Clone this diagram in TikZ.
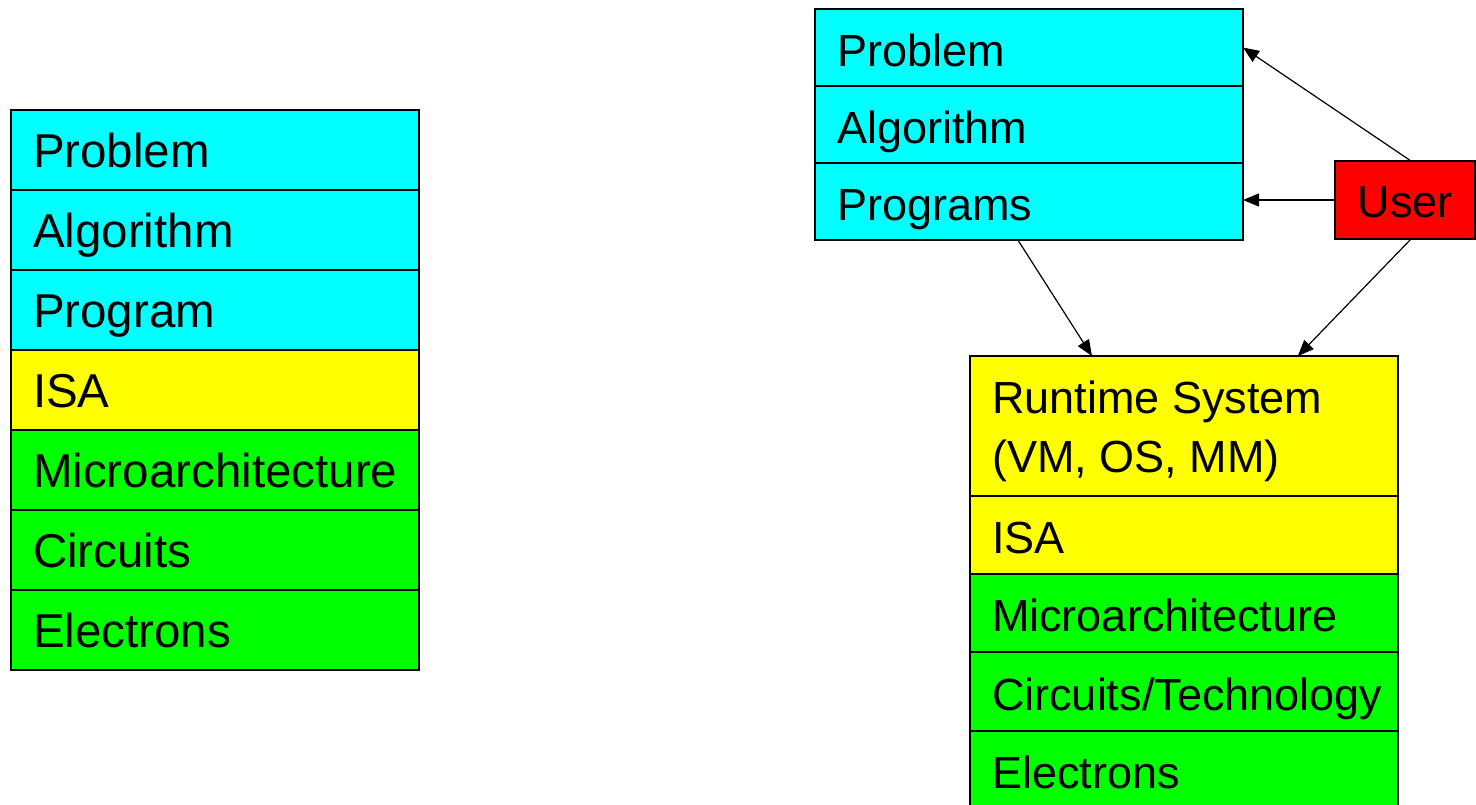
\documentclass[tikz,border=0pt]{standalone}
\usepackage{fontspec}
\setmainfont{Liberation Sans}
\usetikzlibrary{arrows.meta,calc}
\definecolor{cyanR}{RGB}{0,255,255}
\definecolor{yellowR}{RGB}{255,255,0}
\definecolor{greenR}{RGB}{0,255,0}
\definecolor{redR}{RGB}{255,0,0}
\begin{document}
\begin{tikzpicture}[x=0.5pt,y=-0.5pt,
  lay/.style={draw=black, line width=0.7pt, outer sep=0pt, anchor=north west, align=left, inner xsep=11pt, inner ysep=0pt, text depth=0pt},
  layL/.style={lay, text width=182pt, minimum height=40pt, font=\fontsize{23.75pt}{29.5pt}\selectfont, text height=17pt},
  layR/.style={lay, text width=192pt, font=\fontsize{22.5pt}{29.5pt}\selectfont, text height=18.8pt},
  txtR/.style={anchor=base west, inner sep=0pt, font=\fontsize{22.5pt}{29.5pt}\selectfont},
  conn/.style={draw=black, line width=0.6pt, -{Triangle[length=8pt,width=6.5pt]}}
]
\useasboundingbox (0,0) rectangle (1476,804);
\fill[white] (0,0) rectangle (1476,804);
% left stack
\node[layL, fill=cyanR]   (l1) at (11,110) {Problem};
\node[layL, fill=cyanR]   (l2) at (11,190) {Algorithm};
\node[layL, fill=cyanR]   (l3) at (11,270) {Program};
\node[layL, fill=yellowR] (l4) at (11,350) {ISA};
\node[layL, fill=greenR]  (l5) at (11,430) {Microarchitecture};
\node[layL, fill=greenR]  (l6) at (11,510) {Circuits};
\node[layL, fill=greenR]  (l7) at (11,590) {Electrons};
% right top stack
\node[layR, fill=cyanR, minimum height=38.5pt] (p1) at (815,9) {Problem};
\node[layR, fill=cyanR, minimum height=38.5pt] (p2) at (815,86) {Algorithm};
\node[layR, fill=cyanR, minimum height=38.5pt] (p3) at (815,163) {Programs};
% user
\node[draw=black, line width=0.7pt, fill=redR, minimum width=70pt, minimum height=39pt, inner sep=0pt, outer sep=0pt, font=\fontsize{22.5pt}{29.5pt}\selectfont, text height=17.5pt, text depth=0pt] (user) at (1405,200) {User};
% right bottom stack
\node[lay, fill=yellowR, text width=192pt, minimum height=70pt] (rt) at (970,356) {};
\node[txtR] (rt1) at (992,413) {Runtime System};
\node[txtR] (rt2) at (992,472) {(VM, OS, MM)};
\node[layR, fill=yellowR, minimum height=39pt] (r2) at (970,496) {ISA};
\node[layR, fill=greenR, minimum height=39pt]  (r3) at (970,574) {Microarchitecture};
\node[layR, fill=greenR, minimum height=39.5pt] (r4) at (970,652) {Circuits/Technology};
\node[layR, fill=greenR, minimum height=39pt]  (r5) at (970,731) {Electrons};
% connectors
\draw[conn] ($(p3.south west)!0.474!(p3.south east)$) -- ($(rt.north west)!0.285!(rt.north east)$);
\draw[conn] ($(user.north)+(6,0)$) -- (p1.east);
\draw[conn] (user.west) -- (user.west -| p3.east);
\draw[conn] ($(user.south)+(6,0)$) -- ($(rt.north west)!0.766!(rt.north east)$);
\end{tikzpicture}
\end{document}
